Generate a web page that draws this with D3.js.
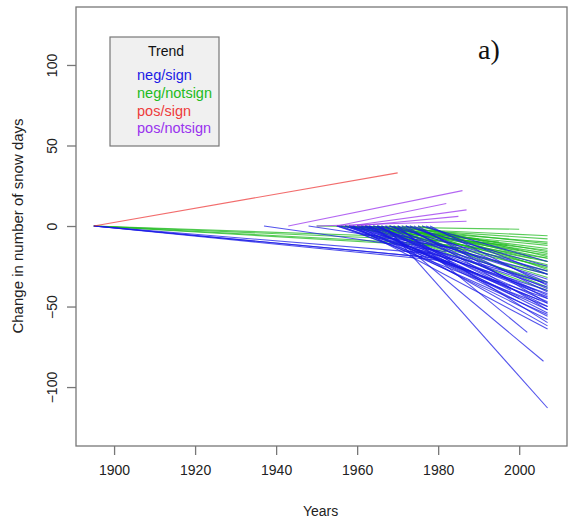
<!DOCTYPE html>
<html>
<head>
<meta charset="utf-8">
<script src="https://cdn.jsdelivr.net/npm/d3@7"></script>
<style>
  body { margin: 0; background: #fff; }
  text { font-family: "Liberation Sans", Arial, sans-serif; }
</style>
</head>
<body>
<div id="chart"></div>
<script>
// trend lines: each one runs from (start, 0) to (end, change)
var categories = ["neg/sign", "neg/notsign", "pos/sign", "pos/notsign"];
var colors = ["#1a1ae6", "#22bb22", "#ee3b3b", "#9933ee"];

var negSignStart = [1895, 1895, 1895, 1895, 1937, 1948, 1955, 1956, 1957, 1958, 1958, 1959, 1960, 1960, 1961, 1961,
  1962, 1962, 1963, 1963, 1964, 1964, 1965, 1965, 1966, 1966, 1967, 1967, 1968, 1968, 1969, 1970, 1970, 1971,
  1972, 1972, 1973, 1974, 1975, 1976, 1977, 1978, 1958, 1960, 1962, 1965, 1955, 1957, 1959, 1963];
var negSignEnd = [1980, 1978, 1983, 1976, 1982, 1985, 2007, 2007, 2007, 2007, 2006, 2007, 2007, 2007, 2007, 2005,
  2007, 2007, 2007, 2007, 2007, 2004, 2007, 2007, 2006, 2007, 2007, 2007, 2007, 2007, 2007, 2002, 2007, 2007,
  2007, 2007, 2007, 2007, 2007, 2007, 2007, 2007, 1990, 1995, 2000, 1998, 1985, 1988, 2007, 2007];
var negSignChange = [-20, -17, -22, -19, -16, -14, -45, -50, -40, -55, -35, -48, -42, -58, -38, -46,
  -52, -30, -44, -62, -36, -40, -47, -54, -84, -33, -113, -50, -43, -28, -60, -66, -39, -45,
  -25, -52, -35, -41, -48, -22, -30, -37, -30, -35, -45, -40, -22, -28, -64, -56];

var negNotStart = [1895, 1895, 1895, 1895, 1950, 1955, 1955, 1956, 1957, 1958, 1958, 1959, 1960, 1960, 1961, 1962,
  1962, 1963, 1964, 1964, 1965, 1966, 1967, 1968, 1969, 1970, 1971, 1972, 1973, 1975, 1976, 1960, 1962, 1958,
  1965, 1968, 1957];
var negNotEnd = [1985, 1980, 1990, 1975, 2000, 2007, 2007, 2007, 2007, 2007, 2007, 2007, 2007, 2007, 2007, 2007,
  2007, 2007, 2007, 2007, 2007, 2007, 2007, 2007, 2007, 2007, 2007, 2007, 2007, 2007, 2007, 1995, 1990, 1997,
  2000, 2003, 1985];
var negNotChange = [-12, -9, -14, -7, -2, -6, -15, -20, -10, -25, -12, -30, -18, -8, -22, -35,
  -14, -28, -40, -17, -24, -32, -11, -20, -26, -38, -16, -30, -22, -19, -27, -10, -8, -12,
  -15, -20, -6];

var posSignStart = [1895];
var posSignEnd = [1970];
var posSignChange = [33];

var posNotStart = [1943, 1955, 1958, 1950, 1960];
var posNotEnd = [1986, 1982, 1987, 1987, 1985];
var posNotChange = [22, 14, 10, 3, 6];

var xTicks = [1900, 1920, 1940, 1960, 1980, 2000];
var yTicks = [-100, -50, 0, 50, 100];

var svgWidth = 568;
var svgHeight = 524;

var plot = { left: 76, right: 567, top: 7, bottom: 446 };

var svg = d3.select("#chart")
  .append("svg")
  .attr("width", svgWidth)
  .attr("height", svgHeight);

var x = d3.scaleLinear()
  .domain([1890.6, 2011.8])
  .range([plot.left, plot.right]);

var y = d3.scaleLinear()
  .domain([-136.6, 136])
  .range([plot.bottom, plot.top]);

function toLines(starts, ends, changes, cat) {
  return starts.map((s, i) => ({ cat: cat, start: s, end: ends[i], change: changes[i] }));
}

var series = [
  toLines(negNotStart, negNotEnd, negNotChange, 1),
  toLines(negSignStart, negSignEnd, negSignChange, 0),
  toLines(posNotStart, posNotEnd, posNotChange, 3),
  toLines(posSignStart, posSignEnd, posSignChange, 2)
];

var lineGroup = svg.append("g");
series.forEach(function(lines) {
  lineGroup.selectAll(null)
    .data(lines)
    .enter()
    .append("line")
    .attr("x1", d => x(d.start))
    .attr("y1", y(0))
    .attr("x2", d => x(d.end))
    .attr("y2", d => y(d.change))
    .attr("stroke", d => colors[d.cat])
    .attr("stroke-width", 1.1)
    .attr("stroke-opacity", 0.75);
});

// frame
svg.append("rect")
  .attr("x", plot.left)
  .attr("y", plot.top)
  .attr("width", plot.right - plot.left)
  .attr("height", plot.bottom - plot.top)
  .attr("fill", "none")
  .attr("stroke", "#777")
  .attr("stroke-width", 1.3);

// axes
var bottomAxis = d3.axisBottom(x).tickValues(xTicks).tickFormat(d3.format("d")).tickSize(9).tickPadding(10);
var leftAxis = d3.axisLeft(y).tickValues(yTicks).tickSize(9).tickPadding(8);

var gx = svg.append("g")
  .attr("transform", `translate(0, ${plot.bottom})`)
  .call(bottomAxis);
gx.select(".domain").remove();
gx.selectAll(".tick line").attr("stroke", "#777").attr("stroke-width", 1.3);
gx.selectAll(".tick text").attr("font-size", "14px").attr("fill", "#222");

var gy = svg.append("g")
  .attr("transform", `translate(${plot.left}, 0)`)
  .call(leftAxis);
gy.select(".domain").remove();
gy.selectAll(".tick line").attr("stroke", "#777").attr("stroke-width", 1.3);
gy.selectAll(".tick text")
  .attr("font-size", "14px").attr("fill", "#222")
  .attr("text-anchor", "middle")
  .attr("dy", null)
  .attr("x", null)
  .attr("transform", "translate(-24, 0) rotate(-90)")
  .attr("dominant-baseline", "central");

// axis titles
svg.append("text")
  .attr("x", (x(1900) + x(2000)) / 2 + 4)
  .attr("y", 516)
  .attr("text-anchor", "middle")
  .attr("font-size", "14px")
  .attr("fill", "#222")
  .text("Years");

svg.append("text")
  .attr("transform", "translate(23, 226) rotate(-90)")
  .attr("text-anchor", "middle")
  .attr("font-size", "15px")
  .attr("fill", "#222")
  .text("Change in number of snow days");

// legend
var legend = svg.append("g");
legend.append("rect")
  .attr("x", 110).attr("y", 37)
  .attr("width", 109).attr("height", 109)
  .attr("fill", "#f0f0f0")
  .attr("stroke", "#777")
  .attr("stroke-width", 1.2);
legend.append("text")
  .attr("x", 166).attr("y", 56)
  .attr("text-anchor", "middle")
  .attr("font-size", "14px")
  .attr("fill", "#111")
  .text("Trend");
legend.selectAll(".item")
  .data(categories)
  .enter()
  .append("text")
  .attr("class", "item")
  .attr("x", 137)
  .attr("y", (d, i) => 80 + i * 17.8)
  .attr("font-size", "14.5px")
  .attr("fill", (d, i) => colors[i])
  .text(d => d);

svg.append("text")
  .attr("x", 478).attr("y", 59)
  .style("font-family", "'Liberation Serif', 'Times New Roman', serif")
  .attr("font-size", "28px")
  .attr("fill", "#111")
  .text("a)");
</script>
</body>
</html>
